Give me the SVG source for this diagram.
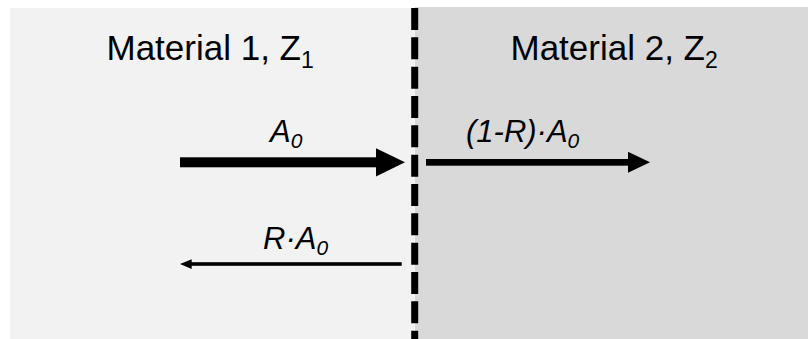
<svg xmlns="http://www.w3.org/2000/svg" width="808" height="339" viewBox="0 0 808 339">
<style>
.title{font-family:"Liberation Sans",Arial,sans-serif;font-size:35px;fill:#000}
.lbl{font-family:"Liberation Sans",Arial,sans-serif;font-size:31px;font-style:italic;fill:#000}
.sub1{font-size:23px}
.sub2{font-size:21px}
.arrow{fill:#000}
</style>
<rect width="808" height="339" fill="#ffffff"/>
<g id="material1">
<rect x="10" y="8" width="405" height="331" fill="#f2f2f2"/>
<text class="title" x="106.5" y="60">Material 1, Z<tspan class="sub1" dy="7.5">1</tspan></text>
</g>
<g id="material2">
<rect x="415" y="7" width="393" height="332" fill="#d9d9d9"/>
<text class="title" x="510.5" y="60">Material 2, Z<tspan class="sub1" dy="7.5">2</tspan></text>
</g>
<g id="interface">
<line x1="414.7" y1="8" x2="414.7" y2="339" stroke="#000" stroke-width="7" stroke-dasharray="22 7.33"/>
</g>
<g id="connectors">
<g id="incident">
<rect class="arrow" x="180" y="157.3" width="197" height="10"/>
<polygon class="arrow" points="376,148.3 405,162.3 376,176.5"/>
<text class="lbl" x="270" y="142">A<tspan class="sub2" dy="5.5">0</tspan></text>
</g>
<g id="transmitted">
<rect class="arrow" x="426" y="159" width="203" height="6.7"/>
<polygon class="arrow" points="628,151.7 650,162.3 628,172.7"/>
<text class="lbl" x="466" y="142">(1-R)·A<tspan class="sub2" dy="5.5">0</tspan></text>
</g>
<g id="reflected">
<rect class="arrow" x="190" y="262.2" width="211.7" height="3.6"/>
<polygon class="arrow" points="191.7,259.2 180,264 191.7,269"/>
<text class="lbl" x="263" y="249.3">R·A<tspan class="sub2" dy="5.5">0</tspan></text>
</g>
</g>
</svg>
